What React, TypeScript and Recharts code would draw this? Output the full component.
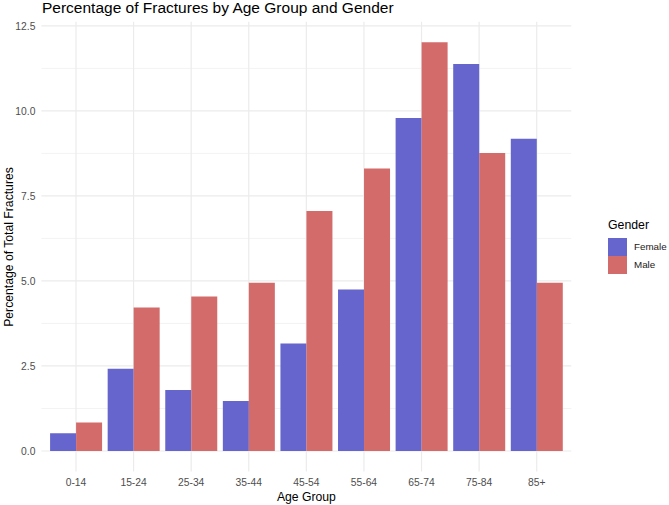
import { BarChart, Bar, XAxis, YAxis, CartesianGrid } from "recharts";

// Percentage of fractures per age group, split by gender.
const ageGroups = ["0-14", "15-24", "25-34", "35-44", "45-54", "55-64", "65-74", "75-84", "85+"];
const female = [0.52, 2.42, 1.79, 1.47, 3.16, 4.75, 9.79, 11.38, 9.18];
const male = [0.84, 4.22, 4.54, 4.95, 7.06, 8.31, 12.02, 8.76, 4.95];
const majorTicks = [0, 2.5, 5, 7.5, 10, 12.5];
const minorTicks = [1.25, 3.75, 6.25, 8.75, 11.25];

const series = [
  { key: "Female", color: "#6565CD" },
  { key: "Male", color: "#D36B6B" },
];

const data = ageGroups.map((g, i) => ({ group: g, Female: female[i], Male: male[i] }));

const FONT = "Arial, 'Liberation Sans', Helvetica, sans-serif";
const tickStyle = { fill: "#4D4D4D", fontSize: 10.3, fontFamily: FONT };

function GenderLegend() {
  return (
    <div style={{ position: "absolute", left: 608, top: 218, fontFamily: FONT, color: "#000" }}>
      <div style={{ fontSize: 12.3, lineHeight: "15px", marginBottom: 4.5 }}>Gender</div>
      {series.map((s) => (
        <div key={s.key} style={{ display: "flex", alignItems: "center", height: 18.3 }}>
          <div style={{ width: 19, height: 18.3, background: s.color }} />
          <span style={{ fontSize: 9.8, marginLeft: 7, color: "#1a1a1a" }}>{s.key}</span>
        </div>
      ))}
    </div>
  );
}

export default function App() {
  return (
    <div style={{ position: "absolute", left: 0, top: 0, width: 669, height: 505, background: "#fff", fontFamily: FONT }}>
      <div style={{ position: "absolute", left: 42, top: -1, fontSize: 15.5, color: "#000", whiteSpace: "nowrap" }}>
        Percentage of Fractures by Age Group and Gender
      </div>
      <div
        style={{
          position: "absolute", left: 8.5, top: 246.6, fontSize: 12.2, color: "#000", whiteSpace: "nowrap",
          transform: "translate(-50%, -50%) rotate(-90deg)",
        }}
      >
        Percentage of Total Fractures
      </div>
      <div
        style={{
          position: "absolute", left: 306.4, top: 496.5, fontSize: 12.2, color: "#000", whiteSpace: "nowrap",
          transform: "translate(-50%, -50%)",
        }}
      >
        Age Group
      </div>
      <GenderLegend />
      <BarChart
        width={669}
        height={505}
        data={data}
        margin={{ top: 21.8, right: 97.7, bottom: 3.6, left: 0 }}
        barCategoryGap="5%"
        barGap={0}
      >
        <CartesianGrid yAxisId="minor" vertical={false} syncWithTicks stroke="#EEEEEE" strokeWidth={0.7} />
        <CartesianGrid horizontal={false} syncWithTicks stroke="#EBEBEB" strokeWidth={1.2} />
        <CartesianGrid vertical={false} syncWithTicks stroke="#EBEBEB" strokeWidth={1.2} />
        <XAxis
          dataKey="group"
          height={30}
          axisLine={false}
          tickLine={false}
          tickSize={0}
          tickMargin={7.2}
          padding={{ left: 5.8, right: 5.8 }}
          tick={tickStyle}
          interval={0}
        />
        <YAxis
          type="number"
          domain={[-0.6, 12.62]}
          allowDataOverflow
          ticks={majorTicks}
          width={41.4}
          axisLine={false}
          tickLine={false}
          tickSize={0}
          tickMargin={6}
          tickFormatter={(v: number) => v.toFixed(1)}
          tick={tickStyle}
        />
        <YAxis yAxisId="minor" type="number" domain={[-0.6, 12.62]} allowDataOverflow ticks={minorTicks} hide />
        {series.map((s) => (
          <Bar key={s.key} dataKey={s.key} fill={s.color} isAnimationActive={false} />
        ))}
      </BarChart>
    </div>
  );
}
